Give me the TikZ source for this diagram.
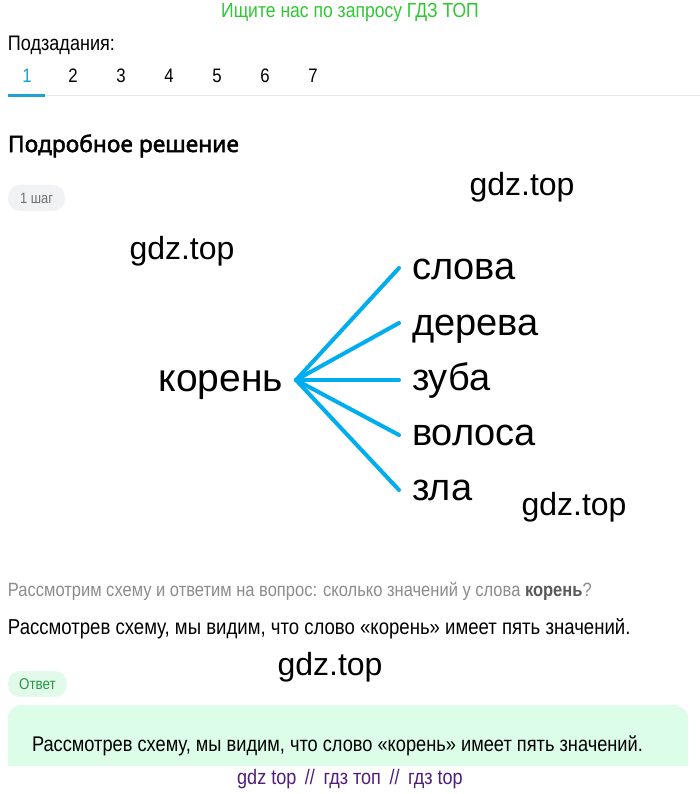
\documentclass[tikz,border=0pt]{standalone}
\usepackage{fontspec}
\setmainfont{Liberation Sans}
\newfontfamily\narrow[FakeStretch=0.86]{Liberation Sans}
\newfontfamily\headf[FakeBold=2]{Noto Sans}
\definecolor{topgreen}{RGB}{46,200,50}
\definecolor{tabblue}{RGB}{30,160,210}
\definecolor{linecol}{RGB}{0,174,239}
\definecolor{pillgray}{RGB}{241,242,244}
\definecolor{pillgreen}{RGB}{226,250,234}
\definecolor{anstext}{RGB}{40,150,70}
\definecolor{boxgreen}{RGB}{220,253,232}
\definecolor{purp}{RGB}{80,30,120}
\definecolor{grtext}{RGB}{140,140,140}
\definecolor{sepgray}{RGB}{232,232,232}
\begin{document}
\begin{tikzpicture}[x=1pt,y=-1pt,
  every node/.style={inner sep=0pt,outer sep=0pt},
  tab/.style={font=\narrow\fontsize{19.5}{19.5}\selectfont},
  wm/.style={font=\fontsize{32}{32}\selectfont},
  word/.style={font=\fontsize{38}{38}\selectfont,anchor=base west},
  branch/.style={draw=linecol,line width=4pt,line cap=round}]
\useasboundingbox[fill=white] (0,0) rectangle (700,794);
% header
\node[text=topgreen,font=\narrow\fontsize{20.4}{20.4}\selectfont] (top) at (350,12) {Ищите нас по запросу ГДЗ ТОП};
\node[anchor=west,font=\narrow\fontsize{21}{21}\selectfont] (sub) at (8,45) {Подзадания:};
\node[tab,text=tabblue] (t1) at (27,76) {1};
\node[tab] (t2) at (73,76) {2};
\node[tab] (t3) at (121,76) {3};
\node[tab] (t4) at (169,76) {4};
\node[tab] (t5) at (217,76) {5};
\node[tab] (t6) at (265,76) {6};
\node[tab] (t7) at (313,76) {7};
\fill[sepgray] (45,95.5) rectangle (700,96.5);
\fill[tabblue] (8,94) rectangle (45,97);
\node[anchor=west,font=\headf\fontsize{22.8}{22.8}\selectfont] (head) at (8,146) {Подробное решение};
\fill[pillgray,rounded corners=12pt] (8,185) rectangle (65,211);
\node[font=\narrow\fontsize{15}{15}\selectfont,text=grtext!80!black] (step) at (36.5,198) {1 шаг};
% watermarks
\node[wm] (w1) at (522,187) {gdz.top};
\node[wm] (w2) at (182,251) {gdz.top};
\node[wm] (w3) at (574,507) {gdz.top};
\node[wm] (w4) at (330,667) {gdz.top};
% diagram
\node[font=\fontsize{39}{39}\selectfont,anchor=base east] (root) at (283,391) {корень};
\coordinate (hub) at (296,380);
\coordinate (e1) at (399,268);
\coordinate (e2) at (399,323);
\coordinate (e3) at (399,380);
\coordinate (e4) at (399,435);
\coordinate (e5) at (399,490);
\draw[branch] (hub) -- (e1);
\draw[branch] (hub) -- (e2);
\draw[branch] (hub) -- (e3);
\draw[branch] (hub) -- (e4);
\draw[branch] (hub) -- (e5);
\node[word] (m1) at (412,279) {слова};
\node[word] (m2) at (412,335) {дерева};
\node[word] (m3) at (412,390) {зуба};
\node[word] (m4) at (412,445) {волоса};
\node[word] (m5) at (412,500) {зла};
% text
\node[anchor=west,text=grtext,font=\narrow\fontsize{19.2}{19.2}\selectfont] (q) at (8,591) {Рассмотрим схему и ответим на вопрос: сколько значений у слова \textcolor{black!65}{\bfseries корень}?};
\node[anchor=west,font=\narrow\fontsize{21.6}{21.6}\selectfont] (a1) at (8,629) {Рассмотрев схему, мы видим, что слово «корень» имеет пять значений.};
\fill[pillgreen,rounded corners=12pt] (8,671) rectangle (67,697);
\node[text=anstext,font=\narrow\fontsize{15.6}{15.6}\selectfont] (ans) at (37.5,684) {Ответ};
\fill[boxgreen,rounded corners=14pt] (8,705) rectangle (688,790);
\fill[white] (0,766) rectangle (700,794);
\node[anchor=west,font=\narrow\fontsize{21.2}{21.2}\selectfont] (a2) at (32,746) {Рассмотрев схему, мы видим, что слово «корень» имеет пять значений.};
\node[text=purp,font=\narrow\fontsize{21}{21}\selectfont] (foot) at (350,779) {gdz top \,//\, гдз топ \,//\, гдз top};
\end{tikzpicture}
\end{document}
